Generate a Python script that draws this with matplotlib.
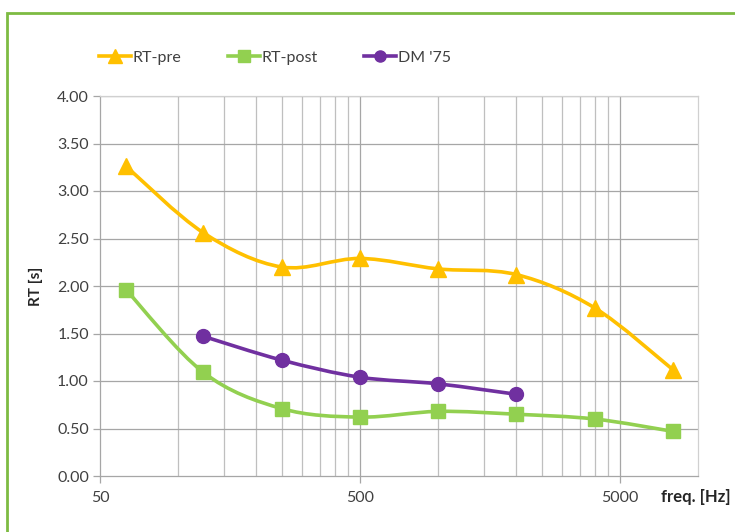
import numpy as np
import matplotlib
matplotlib.use("Agg")
import matplotlib.pyplot as plt
from matplotlib.path import Path
from matplotlib.patches import PathPatch, Rectangle
from matplotlib.lines import Line2D
from matplotlib.ticker import FixedLocator, NullFormatter, NullLocator

plt.rcParams['font.family'] = ['Lato', 'DejaVu Sans']

freq = [63, 125, 250, 500, 1000, 2000, 4000, 8000]
rt_pre = [3.26, 2.56, 2.20, 2.29, 2.18, 2.12, 1.77, 1.12]
rt_post = [1.96, 1.09, 0.71, 0.62, 0.68, 0.65, 0.60, 0.47]
dm_freq = [125, 250, 500, 1000, 2000]
dm75 = [1.47, 1.22, 1.04, 0.97, 0.86]

y_ticks = [0.0, 0.5, 1.0, 1.5, 2.0, 2.5, 3.0, 3.5, 4.0]
x_labels = [50, 500, 5000]


def smooth_path(xs, ys):
    # Excel-like smoothed line: Catmull-Rom as cubic Bezier in (log x, y)
    lx = np.log10(xs)
    y = np.asarray(ys, float)
    n = len(lx)
    verts = [(xs[0], y[0])]
    codes = [Path.MOVETO]
    for i in range(n - 1):
        i0 = max(i - 1, 0)
        i3 = min(i + 2, n - 1)
        c1x = lx[i] + (lx[i + 1] - lx[i0]) / 6
        c1y = y[i] + (y[i + 1] - y[i0]) / 6
        c2x = lx[i + 1] - (lx[i3] - lx[i]) / 6
        c2y = y[i + 1] - (y[i3] - y[i]) / 6
        verts += [(10 ** c1x, c1y), (10 ** c2x, c2y), (xs[i + 1], y[i + 1])]
        codes += [Path.CURVE4] * 3
    return Path(verts, codes)


fig = plt.figure(figsize=(7.35, 5.32), dpi=100)
ax = fig.add_axes([100 / 735, 1 - 476 / 532, 598 / 735, 380 / 532])

fig.patches.append(Rectangle((7 / 735, -0.1), 1.2, 1 - 13 / 532 + 0.1,
                             transform=fig.transFigure, fill=False,
                             edgecolor='#7DBB42', linewidth=2))

ax.set_xscale('log')
ax.set_xlim(50, 10000)
ax.set_ylim(0, 4)

minor = [m * 10 ** k for k in (1, 2, 3) for m in (10, 15, 20, 25, 30, 35, 40, 45)]
minor = [v for v in minor if 50 < v < 10000 and v not in (500, 5000)]
for v in minor:
    ax.axvline(v, color='#BFBFBF', lw=0.9, zorder=0)
for v in x_labels[1:]:
    ax.axvline(v, color='#A6A6A6', lw=0.9, zorder=0)
for v in y_ticks[1:]:
    ax.axhline(v, color='#A6A6A6', lw=0.9, zorder=0)

ax.xaxis.set_major_locator(FixedLocator(x_labels))
ax.xaxis.set_minor_locator(NullLocator())
ax.xaxis.set_minor_formatter(NullFormatter())
ax.set_xticklabels([str(v) for v in x_labels])
ax.set_yticks(y_ticks)
ax.set_yticklabels(['%.2f' % v for v in y_ticks])
ax.tick_params(axis='both', colors='#A6A6A6', labelcolor='#404040',
               labelsize=11.5, length=5, width=0.9)
ax.tick_params(axis='x', pad=6)
ax.tick_params(axis='y', pad=3)

for s in ('top', 'right'):
    ax.spines[s].set_color('#D0D0D0')
    ax.spines[s].set_linewidth(0.9)
for s in ('left', 'bottom'):
    ax.spines[s].set_color('#A6A6A6')
    ax.spines[s].set_linewidth(0.9)

series = [
    (freq, rt_pre, '#FFC000', '^', 12, 'RT-pre'),
    (freq, rt_post, '#92D050', 's', 10, 'RT-post'),
    (dm_freq, dm75, '#7030A0', 'o', 10, "DM '75"),
]
handles = []
for xs, ys, col, mk, ms, lab in series:
    ax.add_patch(PathPatch(smooth_path(xs, ys), fill=False, edgecolor=col,
                           lw=2.6, zorder=3, capstyle='round'))
    ax.plot(xs, ys, linestyle='none', marker=mk, markersize=ms, color=col,
            zorder=4)
    handles.append(Line2D([], [], color=col, lw=2.6, marker=mk, markersize=ms - 2,
                          label=lab))

fig.legend(handles=handles, loc='center', bbox_to_anchor=(0.374, 1 - 58 / 532),
           ncol=3, frameon=False, fontsize=11.5, handlelength=2.0,
           handletextpad=0.1, columnspacing=2.9, labelcolor='#404040')

ax.set_ylabel('RT [s]', fontsize=11, fontweight='bold', color='#262626',
              labelpad=10)
ax.text(1.055, -0.055, 'freq. [Hz]', transform=ax.transAxes, ha='right',
        va='center', fontsize=12, fontweight='bold', color='#262626')

fig.savefig('out.png', dpi=100)
